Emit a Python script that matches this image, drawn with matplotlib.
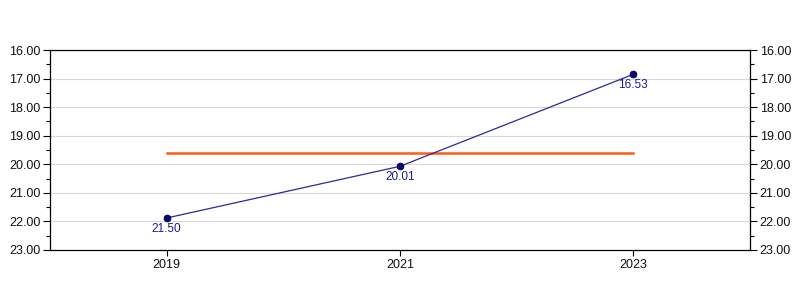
import matplotlib
matplotlib.use("Agg")
import matplotlib.pyplot as plt
from matplotlib.ticker import MultipleLocator, FormatStrFormatter

plt.rcParams['font.family'] = ['Liberation Sans', 'DejaVu Sans']

# data
years = [2019, 2021, 2023]
values = [21.88, 20.07, 16.85]
point_labels = ["21.50", "20.01", "16.53"]
avg_value = sum(values) / len(values)

fig = plt.figure(figsize=(8, 3), dpi=100)
ax = fig.add_axes([50 / 800, 50 / 300, 700 / 800, 200 / 300])

ax.plot(years, values, color="#2a2a9a", lw=0.9, zorder=3)
ax.scatter(years, values, s=24, color="#0a0a7a", edgecolors="#000033", lw=0.6, zorder=4)
ax.plot([years[0], years[-1]], [avg_value, avg_value], color="#ff5a14", lw=1.8, zorder=2)

for x, y, lab in zip(years, values, point_labels):
    ax.annotate(lab, (x, y), xytext=(0, -8), textcoords="offset points",
                ha="center", va="center", fontsize=8.5, color="#1a1a9a")

ax.set_xlim(2018, 2024)
ax.set_ylim(23, 16)
ax.set_xticks(years)
ax.set_xticklabels([str(y) for y in years])
ax.yaxis.set_major_locator(MultipleLocator(1))
ax.yaxis.set_minor_locator(MultipleLocator(0.5))
ax.yaxis.set_major_formatter(FormatStrFormatter("%.2f"))
ax.tick_params(axis="y", which="both", left=True, right=True, labelleft=True, labelright=True,
               labelsize=9, direction="out", labelcolor="#111111")
ax.tick_params(axis="y", which="major", length=5, width=0.8, pad=2)
ax.tick_params(axis="y", which="minor", length=3, width=0.8)
ax.tick_params(axis="x", labelsize=9, length=4, width=0.8, pad=2.5, labelcolor="#111111")
ax.grid(axis="y", which="major", color="#d8d8d8", lw=0.8)
ax.set_axisbelow(True)
for s in ax.spines.values():
    s.set_linewidth(0.9)

fig.savefig("out.png", dpi=100)
